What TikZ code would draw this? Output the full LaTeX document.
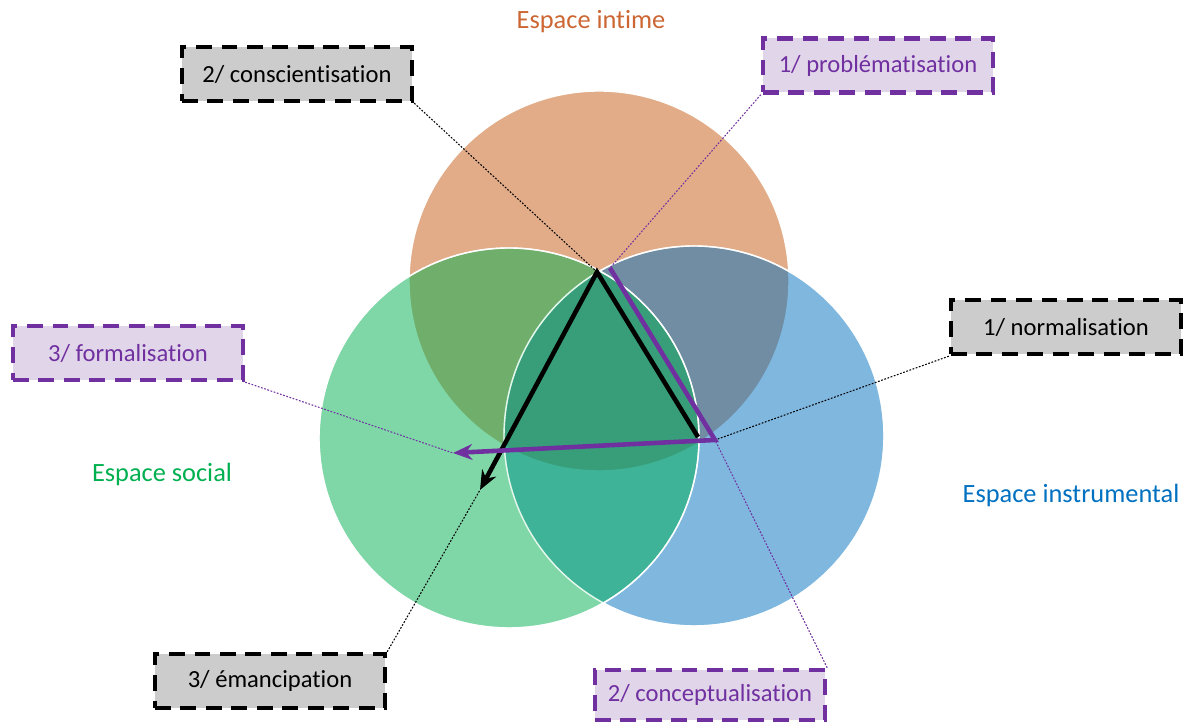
\documentclass[tikz,border=0pt]{standalone}
\usepackage{fontspec}
\setmainfont{Carlito}[Ligatures={NoCommon}]
\usetikzlibrary{arrows.meta}
\definecolor{intime}{RGB}{197,90,17}
\definecolor{intimetxt}{RGB}{204,102,51}
\definecolor{social}{RGB}{0,176,80}
\definecolor{instru}{RGB}{0,112,192}
\definecolor{mauve}{RGB}{112,48,160}
\definecolor{grisbox}{RGB}{204,204,204}
\definecolor{lilas}{RGB}{225,213,234}
\tikzset{
  espace/.style={draw=white, line width=0.8pt, fill opacity=0.5},
  etape/.style={draw=black, fill=grisbox, line width=2.5pt, dash pattern=on 9pt off 5.5pt,
    minimum width=4.6cm, minimum height=1.08cm, font=\fontsize{14}{16}\selectfont},
  etapev/.style={etape, draw=mauve, fill=lilas, text=mauve},
  renvoi/.style={black, line width=0.6pt, dash pattern=on 1pt off 0.9pt},
  renvoiv/.style={renvoi, mauve},
  titre/.style={font=\fontsize{15}{17}\selectfont}
}

\begin{document}
\begin{tikzpicture}
      \useasboundingbox (0, 0) rectangle (23.7, 14.44);
      \fill[espace, fill=intime] (11.98, 8.82) circle (3.8);
      \fill[espace, fill=instru] (13.88, 5.72) circle (3.8);
      \fill[espace, fill=social] (10.18, 5.68) circle (3.8);
      \draw[white, line width=0.8pt, draw opacity=0.8] (13.88, 5.72) circle (3.8);
      \draw[white, line width=0.8pt, draw opacity=0.8] (10.18, 5.68) circle (3.8);
      \coordinate (A) at (11.94, 9.00);
      \coordinate (B) at (13.96, 5.70);
      \coordinate (N) at (9.60, 4.64);
      \coordinate (P1) at (12.20, 9.08);
      \coordinate (P2) at (14.30, 5.64);
      \coordinate (F) at (9.06, 5.38);
      \node[etape] (consc) at (5.94, 12.96) {2/ conscientisation};
      \node[etapev] (probl) at (17.56, 13.13) {1/ problématisation};
      \node[etapev] (forma) at (2.56, 7.38) {3/ formalisation};
      \node[etape] (norma) at (21.32, 7.90) {1/ normalisation};
      \node[etape] (emanc) at (5.40, 0.82) {3/ émancipation};
      \node[etapev, minimum height=1.0cm] (conce) at (14.20, 0.54) {2/ conceptualisation};
      \draw[renvoi] (consc.south east) -- (A);
      \draw[renvoiv] (probl.south west) -- (P1);
      \draw[renvoiv] (forma.south east) -- (F);
      \draw[renvoi] (norma.south west) -- (P2);
      \draw[renvoi] (emanc.north east) -- (N);
      \draw[renvoiv] (conce.north east) -- (P2);
      \draw[line width=2.6pt, -{Stealth[length=11pt, width=9pt]}] (B) -- (A) -- (N);
      \draw[mauve, line width=2.6pt, -{Stealth[length=11pt, width=9pt]}] (P1) -- (P2) -- (F);
      \node[titre, text=intimetxt] (lintime) at (11.82, 14.0) {Espace intime};
      \node[titre, text=social] (lsocial) at (3.24, 4.96) {Espace social};
      \node[titre, text=instru] (linstru) at (21.42, 4.54) {Espace instrumental};
    \end{tikzpicture}
\end{document}
